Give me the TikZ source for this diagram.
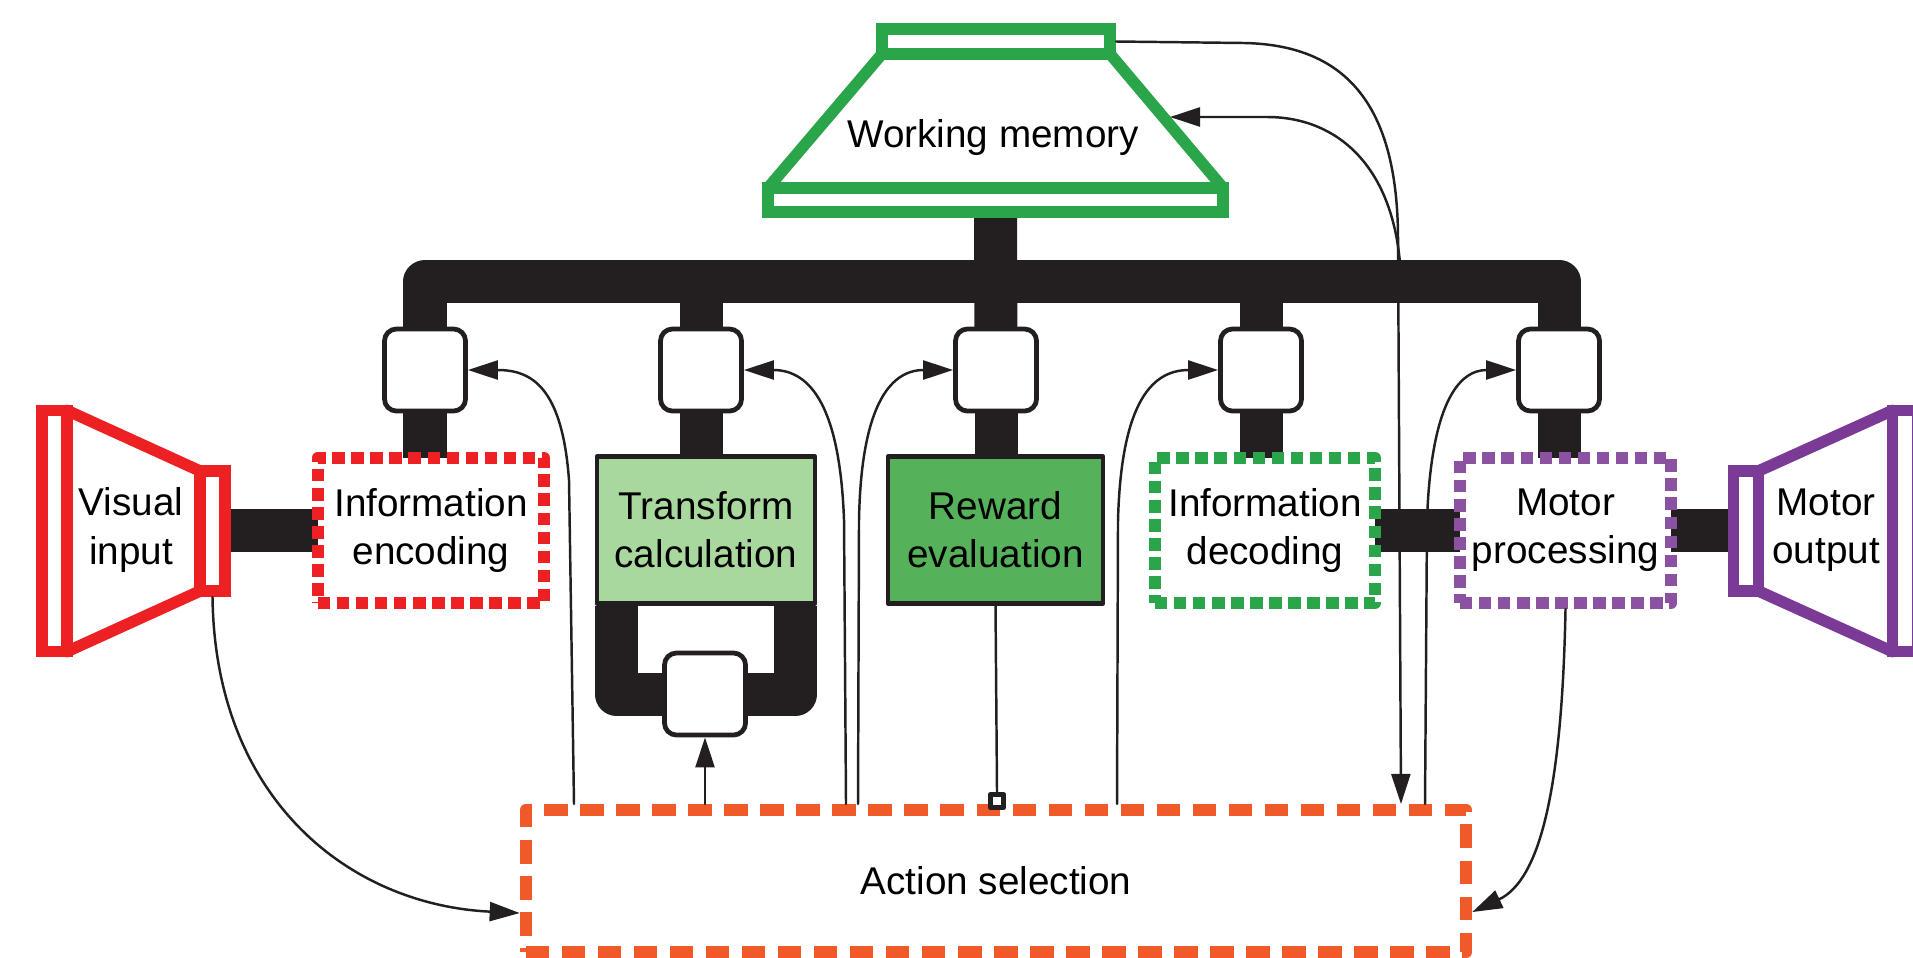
\documentclass[tikz,border=0pt]{standalone}
\usepackage{fontspec}
\setmainfont{Liberation Sans}
\usetikzlibrary{arrows.meta,backgrounds}
\definecolor{edwqwu}{RGB}{237,32,36}
\definecolor{waarua}{RGB}{42,165,74}
\definecolor{xbtazy}{RGB}{123,58,150}
\definecolor{oarwaq}{RGB}{138,82,160}
\definecolor{fqrawo}{RGB}{240,90,40}
\definecolor{aodoze}{RGB}{168,216,158}
\definecolor{rrbwra}{RGB}{85,178,90}
\definecolor{wtlfwq}{RGB}{35,31,32}
\tikzset{
	txt/.style={align=center,font=\fontsize{11pt}{13.7pt}\selectfont},
	gate/.style={draw=wtlfwq,fill=white,line width=1.35pt,rounded corners=0.12cm,minimum width=0.81cm,minimum height=0.82cm,inner sep=0pt},
	dotbox/.style={txt,draw=#1,fill=white,line width=0.12cm,line cap=butt,dash pattern=on 0.125cm off 0.065cm,minimum height=1.45cm,inner sep=0pt},
	fillbox/.style={txt,draw=wtlfwq,fill=#1,line width=1.2pt,minimum height=1.47cm,inner sep=0pt},
	hornbar/.style={draw=#1,fill=white,line width=0.115cm,line join=miter,inner sep=0pt,outer sep=0pt,minimum width=0.25cm},
	bar/.style={draw=wtlfwq,line width=0.43cm,line cap=butt,line join=round},
	wire/.style={draw=wtlfwq,line width=0.7pt}
}
\begin{document}
\begin{tikzpicture}[line cap=round,line join=round,>={Triangle[length=0.3cm,width=0.19cm]},x=0.01cm,y=-0.01cm]
	\useasboundingbox (0,0) rectangle (1913,957);
	\clip (0,0) rectangle (1913,957);
	\coordinate (bus) at (0,281.5);
	% working memory
	\node[hornbar=waarua,minimum width=2.28cm,minimum height=0.25cm] (wmtop) at (996,41.5) {};
	\node[hornbar=waarua,minimum width=4.55cm,minimum height=0.24cm] (wmbot) at (995.5,200) {};
	\draw[waarua,line width=0.115cm] (wmtop.south west) -- (wmbot.north west) (wmtop.south east) -- (wmbot.north east);
	\node[txt,anchor=base] (wm) at (993,147) {Working memory};
	% gates
	\foreach \n/\x in {g1/425,g2/701,g3/996,g4/1261,g5/1559}
		\node[gate] (\n) at (\x,370) {};
	\node[gate] (g6) at (705,694) {};
	% modules
	\node[dotbox=edwqwu,minimum width=2.26cm] (enc) at (431,530.5) {Information\\encoding};
	\node[fillbox=aodoze,minimum width=2.18cm] (tra) at (706,530) {Transform\\calculation};
	\node[fillbox=rrbwra,minimum width=2.15cm] (rew) at (995.5,530) {Reward\\evaluation};
	\node[dotbox=waarua,minimum width=2.20cm] (dec) at (1265,530.5) {Information\\decoding};
	\node[dotbox=oarwaq,minimum width=2.11cm] (mot) at (1565.5,530.5) {Motor\\processing};
	% input and output
	\node[hornbar=edwqwu,minimum height=2.41cm] (vina) at (54.5,531) {};
	\node[hornbar=edwqwu,minimum height=1.20cm] (vinb) at (212.5,531) {};
	\draw[edwqwu,line width=0.115cm] (vina.north east) -- (vinb.north west) (vina.south east) -- (vinb.south west);
	\node[txt] (vin) at (131,530) {Visual\\input};
	\node[hornbar=xbtazy,minimum height=1.20cm] (mouta) at (1746,531) {};
	\node[hornbar=xbtazy,minimum height=2.41cm] (moutb) at (1905,531) {};
	\draw[xbtazy,line width=0.115cm] (mouta.north east) -- (moutb.north west) (mouta.south east) -- (moutb.south west);
	\node[txt] (mout) at (1826,530) {Motor\\output};
	% action selection
	\node[txt,draw=fqrawo,line width=0.12cm,line cap=butt,dash pattern=on 0.235cm off 0.125cm,minimum width=9.40cm,minimum height=1.42cm] (act) at (996,881) {Action selection};
	\node[draw=wtlfwq,fill=white,line width=1.6pt,minimum size=0.13cm,inner sep=0pt] (sq) at (997,801) {};
	% thick pathways
	\begin{pgfonlayer}{background}
		\draw[bar] (g1.center) |- (bus -| g5.center) -- (g5.center);
		\draw[bar] (wmbot.center) -- (g3.center);
		\foreach \n in {g2,g4}
			\draw[bar] (\n.center) -- (\n |- bus);
		\foreach \n/\m in {g1/enc,g2/tra,g3/rew,g4/dec,g5/mot}
			\draw[bar] (\n.center) -- (\n |- \m.center);
		\draw[bar] ([xshift=0.215cm]tra.south west) |- (g6.center) -| ([xshift=-0.215cm]tra.south east);
		\draw[bar] (vinb.center |- enc.center) -- (enc.center);
		\draw[bar] (dec.center) -- (mot.center);
		\draw[bar] (mot.center) -- (mot.center -| mouta.center);
	\end{pgfonlayer}
	% control lines
	\coordinate (a1) at (574,0);
	\coordinate (a2) at (846,0);
	\coordinate (a3) at (858,0);
	\coordinate (a6) at (1117,0);
	\coordinate (a7) at (1425,0);
	\coordinate (a8) at (1401,0);
	\coordinate (wmin) at (1170,117);
	\draw[wire,->] (a1 |- act.north) -- (569,480) .. controls (562,385) and (530,370) .. (g1.east);
	\draw[wire,->] (a2 |- act.north) -- (844,520) .. controls (840,410) and (812,370) .. (g2.east);
	\draw[wire,->] (a3 |- act.north) -- (859,520) .. controls (861,410) and (888,370) .. (g3.west);
	\draw[wire,->] (g6.south |- act.north) -- (g6.south);
	\draw[wire] (rew.south) -- (sq.north);
	\draw[wire,->] (a6 |- act.north) -- (1118,520) .. controls (1121,410) and (1148,370) .. (g4.west);
	\draw[wire,->] (a7 |- act.north) -- (1427,520) .. controls (1431,405) and (1458,370) .. (g5.west);
	\draw[wire,->] ([xshift=0.06cm]wmtop.east) -- (1244,43) .. controls (1350,45) and (1398,110) .. (1398,240) -- (a8 |- act.north);
	\draw[wire,->] (a8 |- bus) .. controls (1398,170) and (1340,117) .. (1267,117) -- (wmin);
	\draw[wire,->] (mot.south) .. controls (1562,790) and (1540,880) .. ([yshift=-0.31cm]act.east);
	\draw[wire,->] ([yshift=-0.06cm]vinb.south) .. controls (215,800) and (350,905) .. ([yshift=-0.32cm]act.west);
\end{tikzpicture}
\end{document}
